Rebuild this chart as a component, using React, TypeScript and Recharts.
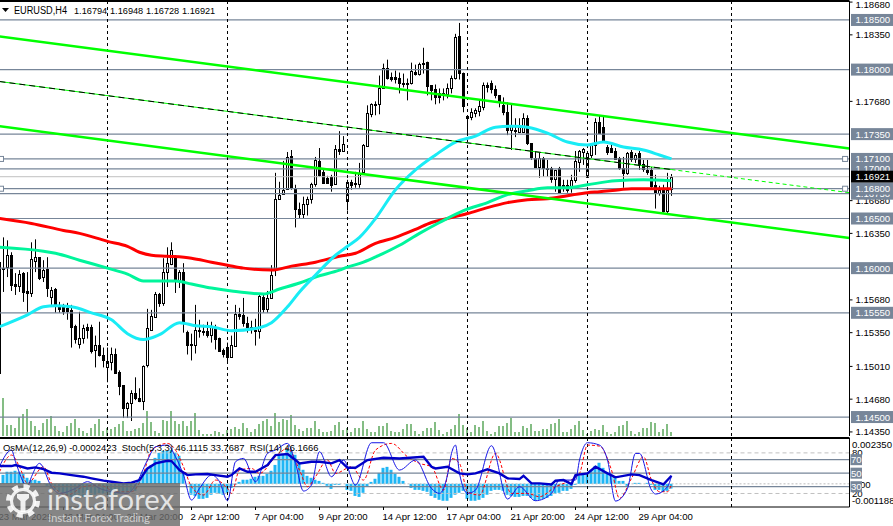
import React from "react";
import { ComposedChart, Bar, Line, XAxis, YAxis, ReferenceLine, ReferenceDot } from "recharts";

const FONT = "'Liberation Sans', Arial, sans-serif";
const SLATE = "#778699";
const W = 893;
const AXIS_X = 849.5;

// Prices are kept in 1/10000 units (11692.1 = 1.16921)
const opens = [11600,11601,11613,11584,11582,11595,11577,11575,11607,11611,11591,11599,11571,11579,11562,11561,11560,11558,11542,11524,11530,11541,11541,11518,11523,11512,11500,11505,11513,11495,11482,11459,11464,11474,11469,11466,11502,11538,11551,11574,11565,11596,11604,11611,11588,11596,11536,11524,11523,11538,11537,11537,11533,11541,11530,11518,11521,11510,11522,11554,11553,11545,11541,11538,11537,11571,11559,11570,11598,11670,11675,11680,11713,11681,11660,11655,11665,11670,11685,11708,11697,11691,11692,11685,11720,11718,11668,11687,11686,11685,11697,11723,11755,11764,11765,11781,11802,11793,11793,11792,11787,11787,11786,11798,11796,11806,11808,11784,11780,11776,11775,11775,11781,11792,11834,11797,11753,11752,11756,11758,11762,11784,11786,11780,11774,11764,11757,11739,11739,11737,11737,11751,11726,11711,11702,11711,11701,11701,11690,11701,11684,11684,11681,11689,11707,11717,11692,11714,11724,11747,11742,11722,11721,11718,11711,11701,11696,11717,11710,11716,11705,11699,11699,11684,11676,11680,11658,11679.4];
const highs = [11631,11628,11616,11595,11598,11596,11596,11626,11629,11611,11608,11611,11581,11580,11566,11564,11565,11563,11543,11556,11543,11544,11543,11532,11546,11520,11520,11520,11519,11497,11482,11465,11477,11490,11479,11502,11559,11558,11576,11575,11610,11621,11626,11613,11598,11605,11537,11534,11563,11548,11543,11546,11546,11543,11530,11519,11525,11532,11563,11560,11570,11551,11547,11549,11573,11573,11577,11603,11696,11687,11708,11717,11719,11684,11666,11672,11672,11686,11712,11721,11699,11693,11694,11724,11738,11733,11689,11689,11697,11706,11725,11764,11766,11768,11794,11806,11810,11797,11799,11797,11796,11791,11807,11805,11807,11822,11808,11784,11785,11781,11781,11786,11794,11836,11847,11797,11754,11761,11761,11770,11787,11787,11789,11784,11774,11772,11767,11766,11751,11751,11756,11754,11726,11717,11716,11712,11709,11702,11699,11702,11689,11689,11694,11718,11719,11721,11716,11726,11751,11754,11753,11724,11727,11721,11712,11712,11717,11719,11716,11718,11709,11709,11702,11694,11683,11684,11696,11694.8];
const lows = [11576,11591,11577,11573,11576,11566,11556,11571,11596,11588,11586,11571,11563,11555,11555,11553,11548,11520,11524,11519,11524,11529,11514,11500,11511,11500,11485,11497,11494,11472,11449,11449,11446,11467,11465,11457,11500,11537,11550,11561,11562,11581,11603,11575,11580,11535,11513,11507,11514,11530,11532,11530,11525,11518,11517,11510,11504,11510,11522,11548,11541,11535,11534,11522,11529,11555,11555,11570,11592,11669,11675,11679,11679,11641,11650,11650,11653,11665,11682,11692,11685,11685,11677,11684,11714,11718,11658,11679,11681,11681,11696,11723,11752,11754,11755,11781,11790,11788,11786,11776,11782,11769,11785,11794,11794,11796,11774,11769,11765,11766,11769,11771,11776,11790,11790,11757,11734,11749,11752,11753,11759,11777,11776,11771,11762,11754,11734,11719,11732,11736,11737,11724,11709,11701,11691,11692,11692,11686,11677,11676,11677,11676,11676,11686,11697,11704,11691,11711,11714,11736,11727,11714,11716,11709,11699,11681,11694,11707,11706,11699,11697,11694,11681,11660,11673,11656,11654,11672.8];
const closes = [11599,11613,11583,11582,11594,11576,11575,11609,11611,11590,11598,11580,11578,11564,11559,11557,11557,11541,11529,11530,11540,11538,11517,11523,11512,11507,11506,11513,11494,11481,11459,11464,11474,11469,11466,11501,11540,11552,11574,11565,11596,11605,11618,11588,11596,11545,11523,11523,11538,11537,11536,11533,11542,11529,11517,11513,11510,11523,11554,11552,11545,11541,11540,11537,11572,11559,11570,11593,11670,11674,11679,11712,11682,11660,11655,11665,11670,11685,11709,11694,11686,11686,11684,11720,11718,11725,11687,11684,11685,11695,11724,11756,11765,11765,11781,11802,11792,11791,11791,11786,11786,11786,11799,11796,11806,11807,11783,11779,11772,11772,11776,11781,11792,11833,11797,11763,11751,11757,11759,11763,11784,11782,11780,11774,11767,11757,11739,11744,11738,11742,11751,11726,11712,11702,11711,11701,11700,11690,11699,11677,11682,11679,11689,11708,11718,11720,11716,11724,11747,11736,11727,11717,11717,11710,11701,11696,11716,11710,11714,11704,11700,11697,11683,11676,11679,11658,11679,11692.1];
const volumes = [38,11,11,8,19,22,27,15,10,6,13,17,20,10,5,4,10,13,17,8,5,3,8,12,17,5,8,7,9,12,15,5,5,7,8,13,25,14,5,3,16,15,25,15,12,15,10,15,23,6,2,2,2,5,4,2,6,7,9,7,13,8,4,7,12,15,17,10,23,14,17,16,21,11,7,5,8,8,15,7,4,4,5,11,14,6,8,4,8,8,15,7,4,4,10,10,13,5,4,4,7,12,12,5,2,5,8,8,14,6,2,4,7,11,22,11,8,4,11,9,15,5,2,4,10,10,13,18,4,4,10,8,12,5,5,7,7,12,13,17,4,4,7,11,15,6,2,5,7,6,11,4,2,4,10,11,15,5,2,4,8,8,14,13,4,7,12,4];
// The bar cut by the left edge of the picture: open, high, low, close
const leadCandle = [11606, 11613, 11494, 11494];
// [bar index, value] samples
const maSlow: [number, number][] = [[-1,11650],[7,11645],[15,11638],[19,11635],[26,11627],[31,11622],[34,11616],[37,11613],[41,11612],[47,11610],[52,11606],[56,11603],[60,11600],[67,11598],[72,11602],[78,11606],[84,11612],[88,11615],[93,11625],[98,11631],[103,11639],[107,11646],[111,11650],[116,11655],[121,11661],[126,11666],[131,11669],[136,11670],[141,11673],[146,11676],[149,11677],[154,11679],[157,11680],[167,11680]];
const maMid: [number, number][] = [[-1,11621],[10,11617],[13,11615],[19,11608],[26,11600],[31,11594],[35,11587],[41,11587],[43,11587],[47,11584],[52,11580],[57,11577],[65,11574],[69,11579],[74,11585],[78,11591],[84,11598],[86,11601],[90,11606],[94,11613],[99,11623],[104,11635],[109,11646],[115,11658],[121,11666],[126,11674],[131,11678],[136,11681],[141,11681],[146,11684],[153,11688],[160,11689],[167,11688]];
const maFast: [number, number][] = [[-1,11541],[6,11553],[10,11561],[13,11562],[17,11561],[22,11555],[27,11548],[31,11534],[35,11528],[39,11533],[44,11545],[48,11542],[52,11541],[57,11537],[64,11540],[67,11545],[71,11561],[74,11576],[78,11593],[83,11613],[86,11622],[89,11631],[93,11650],[98,11679],[103,11699],[108,11714],[113,11727],[118,11733],[123,11742],[128,11743],[131,11742],[136,11736],[141,11727],[146,11724],[150,11727],[155,11722],[160,11719],[164,11714],[167,11710]];

// OsMA in units of 0.00001
const osma = [46,62,62,67,62,51,31,21,21,15,0,-10,-21,-31,-41,-51,-62,-67,-72,-72,-67,-62,-62,-56,-51,-51,-56,-56,-56,-51,-46,-46,-41,-36,15,62,77,97,133,159,169,169,174,159,144,56,0,-56,-62,-77,-77,-72,-56,-46,-51,-56,-46,-21,-5,10,21,21,26,36,41,41,51,67,97,149,149,185,174,149,108,72,41,31,21,15,5,-10,-26,-5,-5,0,-31,-36,-62,-67,-46,-15,10,26,56,82,87,72,51,36,15,0,-21,-31,-31,-36,-41,-62,-72,-82,-87,-87,-72,-56,-46,-36,-77,-87,-87,-82,-72,-56,-36,-31,-31,-36,-56,-62,-67,-67,-62,-62,-72,-87,-82,-77,-72,-62,-51,-46,-36,-36,-26,-5,41,46,56,72,92,108,82,56,46,31,15,15,-10,0,5,5,0,5,-5,-31,-31,-41,-36,-24.23];
const rsi: [number, number][] = [[-1,60.5],[2,60.5],[3,62],[6,57],[8,58.5],[10,56],[12,50.7],[14,49.7],[17,47.2],[20,44.8],[22,42.3],[25,38.9],[27,37.4],[30,34.9],[32,35.9],[34,39.8],[36,57],[38,64.5],[41,68.4],[42,67.9],[44,54.6],[46,47.2],[48,48.2],[51,48.7],[53,47.2],[56,44.8],[57,47.2],[59,57],[61,52.1],[63,52.1],[66,62],[68,76.8],[71,78.2],[73,69.4],[74,64.5],[77,66.9],[79,66.9],[82,64.5],[84,69.4],[86,58],[88,58],[91,69.4],[95,72.8],[99,71.8],[105,74.3],[107,59.5],[108,57],[111,59.5],[114,49.7],[116,48.2],[118,49.7],[121,55.6],[124,49.7],[126,42.3],[129,41.3],[130,46.2],[132,34.9],[134,34.9],[137,33.4],[138,38.9],[140,39.8],[142,33.9],[143,47.2],[146,49.7],[148,59.5],[151,49.7],[153,43.8],[157,48.2],[159,47.2],[162,39.8],[165,33.4],[167,46.17]];
const stochMain: [number, number][] = [[-1,60],[2,84.2],[3,66.9],[6,30],[7,44.8],[9,64.5],[12,30],[14,20.1],[18,27.5],[21,37.4],[24,27.5],[27,22.6],[31,20.1],[33,32.5],[36,69.4],[38,89],[41,91.5],[43,74.3],[45,47.2],[47,10.3],[49,27.5],[52,47.2],[54,37.4],[56,9.3],[58,66.9],[60,71.8],[63,37.4],[66,79.2],[68,84.2],[71,94],[73,64.5],[75,23.6],[77,32.5],[79,81.7],[82,44.8],[85,69.4],[88,32.5],[92,95],[95,95],[99,54.6],[103,69.4],[107,27.5],[109,20.1],[111,47.2],[112,79.2],[113,91.5],[114,49.7],[116,20.1],[118,25],[122,90.6],[126,11.8],[129,30],[133,9.3],[137,20.1],[139,39.8],[143,39.8],[144,69.4],[146,95],[149,91.5],[151,69.4],[153,8.8],[156,27.5],[158,79.2],[159,79.2],[162,25],[163,19.2],[166,30],[167,46.11]];
const stochSignal: [number, number][] = [[-1,52],[2,76.8],[4,59.5],[6,34.9],[10,59.5],[12,34.9],[16,17.7],[20,30],[24,32.5],[28,22.6],[32,22.6],[35,49.7],[37,84.2],[41,94],[43,84.2],[45,59.5],[47,30],[50,17.7],[53,39.8],[56,27.5],[57,20.1],[59,54.6],[62,57],[64,49.7],[68,74.3],[71,86.6],[74,54.6],[76,30],[78,44.8],[81,69.4],[83,49.7],[87,59.5],[90,39.8],[93,84.2],[97,94],[101,74.3],[104,64.5],[107,59.5],[110,25],[112,71.8],[114,64.5],[116,22.6],[119,17.7],[123,79.2],[127,20.1],[131,20.1],[134,15.2],[138,30],[141,37.4],[144,49.7],[146,91.5],[149,90],[152,54.6],[154,12.8],[157,42.3],[160,74.3],[162,39.8],[164,22.6],[166,22.6],[167,33.77]];

const priceMin = 1.14309;
const priceMax = 1.18691;
const xDomain: [number, number] = [-1, 211.5];
const lastBar = 167;
const plainPriceTicks = [1.1868, 1.1835, 1.1768, 1.1668, 1.1635, 1.1568, 1.1535, 1.1501, 1.1468, 1.1435];
const levelPrices = [1.185, 1.18, 1.1735, 1.171, 1.17, 1.1675, 1.168, 1.165, 1.16, 1.1555, 1.145];
const bidPrice = 1.16921;
const handlePrices = [1.171, 1.168];
const handleBars = [-0.625, 210.4];
const weekBars = [26, 56, 86, 116, 146, 182];
const channelXs = [-1, 211.5];
const channelUpper = [1.18335, 1.17205];
const channelLower = [1.1743, 1.16303];
const channelMiddle = [1.1788, 1.1676];
const channelMidAtLast = 1.16993;
const oscLevelsSolid = [70, 50, 30];
const oscLevelsDashed = [80, 20];
const oscTicks = [93, 80, 34, 20, 9, 70, 50, 30];
const oscTickLabels = ["0.002350", "80", "0.00", "20", "-0.001188", "70", "50", "30"];
const timeTicks = [-1, 15, 31, 47, 63, 79, 95, 111, 127, 143, 159];
const timeLabels = ["23 Mar 2025", "26 Mar 04:00", "28 Mar 20:00", "2 Apr 12:00", "7 Apr 04:00", "9 Apr 20:00", "14 Apr 12:00", "17 Apr 04:00", "21 Apr 20:00", "24 Apr 12:00", "29 Apr 04:00"];
const symbol = "EURUSD,H4";
const quote = ["1.16794", "1.16948", "1.16728", "1.16921"];
const quoteXs = [74, 110, 146, 182];

const lookup = (pts: [number, number][], i: number) => {
  const f = pts.find((p) => p[0] === i);
  return f ? f[1] : undefined;
};
const asPrice = (v: number | undefined) => (v === undefined ? undefined : v / 10000);

const lines = (i: number) => ({
  slow: asPrice(lookup(maSlow, i)),
  mid: asPrice(lookup(maMid, i)),
  fast: asPrice(lookup(maFast, i)),
  rsi: lookup(rsi, i),
  stoch: lookup(stochMain, i),
  signal: lookup(stochSignal, i),
});

const leadRow = {
  i: -1,
  o: leadCandle[0] / 10000,
  h: leadCandle[1] / 10000,
  l: leadCandle[2] / 10000,
  c: leadCandle[3] / 10000,
  range: [leadCandle[2] / 10000, leadCandle[1] / 10000],
  ...lines(-1),
};

const rows = [
  leadRow,
  ...opens.map((o, i) => ({
    i,
    o: o / 10000,
    h: highs[i] / 10000,
    l: lows[i] / 10000,
    c: closes[i] / 10000,
    range: [lows[i] / 10000, highs[i] / 10000],
    vol: volumes[i],
    osma: osma[i],
    ...lines(i),
  })),
];

const Candle = (props: any) => {
  const { x, y, width, height, payload } = props;
  const { o, h, l, c } = payload;
  const k = height / (h - l);
  const cx = Math.round(x + width / 2 - 0.5) + 0.5;
  const yTop = Math.round(y + (h - Math.max(o, c)) * k) + 0.5;
  const yBot = Math.max(yTop + 1, Math.round(y + (h - Math.min(o, c)) * k) + 0.5);
  const up = c >= o;
  return (
    <g>
      <line x1={cx} x2={cx} y1={y} y2={y + height} stroke="#000" strokeWidth={1} />
      <rect x={cx - 1} y={yTop} width={2} height={yBot - yTop} fill={up ? "#fff" : "#000"} stroke="#000" strokeWidth={1} />
    </g>
  );
};

const boxedTick = (y: number, text: string, fill: string) => (
  <g>
    <rect x={AXIS_X + 1.5} y={y - 6} width={42} height={12} fill={fill} />
    <text x={AXIS_X + 6} y={y + 3.5} fontSize={9.6} fontFamily={FONT} fill="#fff">{text}</text>
  </g>
);

const PriceTick = (props: any) => {
  const { y, payload } = props;
  const v: number = payload.value;
  const label = v.toFixed(5);
  if (v === bidPrice) return boxedTick(y, label, "#000");
  if (levelPrices.includes(v)) return boxedTick(y, label, SLATE);
  return (
    <g>
      <line x1={AXIS_X} x2={AXIS_X + 3} y1={y} y2={y} stroke="#000" />
      <text x={AXIS_X + 6} y={Math.max(y, 4.5) + 3.5} fontSize={9.6} fontFamily={FONT} fill="#000">{label}</text>
    </g>
  );
};

const OscTick = (props: any) => {
  const { y, payload } = props;
  const idx = oscTicks.indexOf(payload.value);
  const label = oscTickLabels[idx];
  if (oscLevelsSolid.includes(payload.value)) {
    return (
      <g>
        <rect x={AXIS_X + 1} y={y - 5.5} width={11.5} height={11} fill={SLATE} />
        <text x={AXIS_X + 1.5} y={y + 3.5} fontSize={9.6} fontFamily={FONT} fill="#fff">{label}</text>
      </g>
    );
  }
  return <text x={AXIS_X + 2.5} y={y + 3.5} fontSize={9.6} fontFamily={FONT} fill="#000">{label}</text>;
};

const TimeTick = (props: any) => {
  const { x, payload } = props;
  const label = timeLabels[timeTicks.indexOf(payload.value)];
  return (
    <g>
      <line x1={x} x2={x} y1={70} y2={73} stroke="#000" />
      <text x={x - 1} y={83} fontSize={9.6} fontFamily={FONT} fill="#000">{label}</text>
    </g>
  );
};

const Handle = (props: any) => (
  <rect x={props.cx - 2.5} y={props.cy - 2.5} width={5} height={5} fill="#fff" stroke={SLATE} strokeWidth={1} />
);

const Logo = () => (
  <svg width={180} height={43} style={{ position: "absolute", left: 0, top: 483 }}>
    <rect x={0} y={0} width={180} height={43} fill="#6a6a6a" fillOpacity={0.82} />
    <g fill="none" stroke="#fff" strokeOpacity={0.88}>
      <circle cx={23} cy={18} r={14.5} strokeWidth={5} strokeDasharray="6 5.4" />
      <circle cx={23} cy={18} r={11.5} strokeWidth={3} />
    </g>
    <path d="M17 11 H29 V15 L25.5 18 V29 H20.5 V18 L17 15 Z" fill="#fff" fillOpacity={0.88} />
    <text x={47} y={27} fontSize={29} fontFamily="Lato, 'Open Sans', sans-serif" fill="#fff" fillOpacity={0.78} textLength={127} lengthAdjust="spacingAndGlyphs">instaforex</text>
    <text x={48} y={39} fontSize={11.5} fontFamily="Lato, 'Open Sans', sans-serif" fill="#fff" fillOpacity={0.62} textLength={102} lengthAdjust="spacing">Instant Forex Trading</text>
  </svg>
);

export default function App() {
  const priceTicks = [...plainPriceTicks, 1.1675, 1.185, 1.18, 1.1735, 1.171, 1.17, bidPrice, 1.168, 1.165, 1.16, 1.1555, 1.145];
  return (
    <div style={{ position: "absolute", left: 0, top: 0, width: W, height: 526, overflow: "hidden", background: "#fff" }}>
      <div style={{ position: "absolute", left: 0, top: 0 }}>
        <ComposedChart width={W} height={436} data={rows} margin={{ top: 1, right: 0, bottom: 0, left: -0.5 }}>
          <XAxis xAxisId="c" dataKey="i" type="number" domain={xDomain} height={0} tick={false} tickLine={false} axisLine={{ stroke: "#000" }} />
          <XAxis xAxisId="v" dataKey="i" type="number" domain={xDomain} hide />
          <YAxis yAxisId="p" orientation="right" width={43.5} domain={[priceMin, priceMax]} ticks={priceTicks} interval={0} allowDataOverflow tick={(p: any) => <PriceTick {...p} />} tickLine={false} axisLine={{ stroke: "#000" }} />
          <YAxis yAxisId="vol" hide domain={[0, 435]} />
          <ReferenceLine xAxisId="c" yAxisId="p" y={priceMax} stroke="#000" strokeWidth={2} />
          {levelPrices.map((p) => (
            <ReferenceLine key={p} xAxisId="c" yAxisId="p" y={p} stroke={SLATE} strokeWidth={1.2} />
          ))}
          <ReferenceLine xAxisId="c" yAxisId="p" y={bidPrice} stroke="#c0c0c0" strokeWidth={1} />
          {weekBars.map((b) => (
            <ReferenceLine key={b} xAxisId="c" yAxisId="p" x={b} stroke="#000" strokeDasharray="3 3" />
          ))}
          <Bar xAxisId="v" yAxisId="vol" dataKey="vol" barSize={1} fill="#0a7d0a" isAnimationActive={false} />
          <Bar xAxisId="c" yAxisId="p" dataKey="range" barSize={1} shape={(p: any) => <Candle {...p} />} isAnimationActive={false} />
          <Line xAxisId="c" yAxisId="p" dataKey="slow" type="monotone" connectNulls dot={false} stroke="#ff0000" strokeWidth={3} isAnimationActive={false} />
          <Line xAxisId="c" yAxisId="p" dataKey="mid" type="monotone" connectNulls dot={false} stroke="#00f59b" strokeWidth={3} isAnimationActive={false} />
          <Line xAxisId="c" yAxisId="p" dataKey="fast" type="monotone" connectNulls dot={false} stroke="#19ecf5" strokeWidth={3} isAnimationActive={false} />
          <ReferenceLine xAxisId="c" yAxisId="p" segment={[{ x: channelXs[0], y: channelUpper[0] }, { x: channelXs[1], y: channelUpper[1] }]} stroke="#00ff00" strokeWidth={2.5} />
          <ReferenceLine xAxisId="c" yAxisId="p" segment={[{ x: channelXs[0], y: channelLower[0] }, { x: channelXs[1], y: channelLower[1] }]} stroke="#00ff00" strokeWidth={2.5} />
          <ReferenceLine xAxisId="c" yAxisId="p" segment={[{ x: channelXs[0], y: channelMiddle[0] }, { x: lastBar, y: channelMidAtLast }]} stroke="#00ff00" strokeWidth={1} />
          <ReferenceLine xAxisId="c" yAxisId="p" segment={[{ x: channelXs[0], y: channelMiddle[0] }, { x: lastBar, y: channelMidAtLast }]} stroke="#000" strokeWidth={1} strokeDasharray="6 4" />
          <ReferenceLine xAxisId="c" yAxisId="p" segment={[{ x: lastBar, y: channelMidAtLast }, { x: channelXs[1], y: channelMiddle[1] }]} stroke="#00ff00" strokeWidth={1} strokeDasharray="4 3" />
          {handlePrices.flatMap((p) =>
            handleBars.map((b) => (
              <ReferenceDot key={`${p}-${b}`} xAxisId="c" yAxisId="p" x={b} y={p} r={2.5} shape={(s: any) => <Handle {...s} />} />
            ))
          )}
        </ComposedChart>
      </div>
      <div style={{ position: "absolute", left: 0, top: 437 }}>
        <ComposedChart width={W} height={89} data={rows} margin={{ top: 1, right: 0, bottom: 0, left: -0.5 }}>
          <XAxis xAxisId="c" dataKey="i" type="number" domain={xDomain} height={19} ticks={timeTicks} interval={0} tick={(p: any) => <TimeTick {...p} />} tickLine={false} axisLine={{ stroke: "#000" }} />
          <YAxis yAxisId="osc" orientation="right" width={43.5} domain={[0, 102]} ticks={oscTicks} interval={0} tick={(p: any) => <OscTick {...p} />} tickLine={false} axisLine={{ stroke: "#000" }} />
          <YAxis yAxisId="os" hide domain={[-118.8, 235]} />
          <ReferenceLine xAxisId="c" yAxisId="osc" y={102} stroke="#000" strokeWidth={2} />
          {oscLevelsDashed.map((v) => (
            <ReferenceLine key={v} xAxisId="c" yAxisId="osc" y={v} stroke="#c0c0c0" strokeDasharray="4 3" />
          ))}
          <Bar xAxisId="c" yAxisId="os" dataKey="osma" barSize={3} fill="#1fb6f5" isAnimationActive={false} />
          {oscLevelsSolid.map((v) => (
            <ReferenceLine key={v} xAxisId="c" yAxisId="osc" y={v} stroke={SLATE} strokeWidth={1.2} />
          ))}
          <ReferenceLine xAxisId="c" yAxisId="os" y={0} stroke="#bdbdbd" strokeDasharray="2 2" />
          {weekBars.map((b) => (
            <ReferenceLine key={b} xAxisId="c" yAxisId="osc" x={b} stroke="#000" strokeDasharray="3 3" />
          ))}
          <Line xAxisId="c" yAxisId="osc" dataKey="signal" type="monotone" connectNulls dot={false} stroke="#ff0000" strokeWidth={1} strokeDasharray="3 2" isAnimationActive={false} />
          <Line xAxisId="c" yAxisId="osc" dataKey="stoch" type="monotone" connectNulls dot={false} stroke="#1414e6" strokeWidth={1} isAnimationActive={false} />
          <Line xAxisId="c" yAxisId="osc" dataKey="rsi" type="linear" connectNulls dot={false} stroke="#0000c8" strokeWidth={2.4} isAnimationActive={false} />
        </ComposedChart>
      </div>
      <svg width={240} height={20} style={{ position: "absolute", left: 0, top: 0 }}>
        <path d="M2 8 H9 L5.5 12 Z" fill="#000" />
        <text x={14} y={13.5} fontSize={10} fontFamily={FONT} fill="#000" textLength={53} lengthAdjust="spacingAndGlyphs">{symbol}</text>
        {quote.map((q, n) => (
          <text key={q} x={quoteXs[n]} y={13.5} fontSize={9.2} fontFamily={FONT} fill="#000">{q}</text>
        ))}
      </svg>
      <svg width={340} height={20} style={{ position: "absolute", left: 0, top: 438 }}>
        <text x={3} y={13} fontSize={9.4} fontFamily={FONT} fill="#000" xmlSpace="preserve">OsMA(12,26,9) -0.0002423  Stoch(5,3,3) 46.1115 33.7687  RSI(14) 46.1666</text>
      </svg>
      <Logo />
    </div>
  );
}
